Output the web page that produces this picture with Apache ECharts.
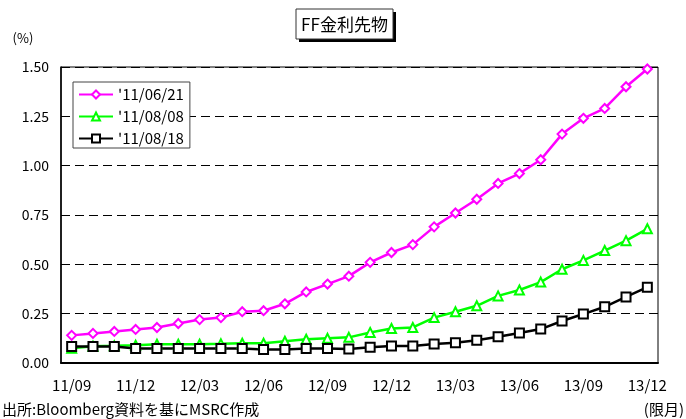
<!DOCTYPE html>
<html>
<head>
<meta charset="utf-8">
<script src="https://cdn.jsdelivr.net/npm/echarts@6/dist/echarts.min.js"></script>
<style>
  html, body { margin: 0; padding: 0; background: #fff; }
  #chart { width: 686px; height: 419px; }
</style>
</head>
<body>
<div id="chart"></div>
<script>
// Contract months (YY/MM)
const months = [
  '11/09','11/10','11/11','11/12','12/01','12/02','12/03','12/04','12/05','12/06',
  '12/07','12/08','12/09','12/10','12/11','12/12','13/01','13/02','13/03','13/04',
  '13/05','13/06','13/07','13/08','13/09','13/10','13/11','13/12'
];

// Implied FF rate (%) by observation date
const curve110621 = [0.14, 0.15, 0.16, 0.17, 0.18, 0.20, 0.22, 0.23, 0.26, 0.265,
  0.30, 0.36, 0.40, 0.44, 0.51, 0.56, 0.60, 0.69, 0.76, 0.83,
  0.91, 0.96, 1.03, 1.16, 1.24, 1.29, 1.40, 1.49];
const curve110808 = [0.075, 0.085, 0.087, 0.09, 0.095, 0.095, 0.095, 0.097, 0.10, 0.10,
  0.11, 0.12, 0.125, 0.13, 0.155, 0.175, 0.18, 0.23, 0.26, 0.29,
  0.34, 0.37, 0.41, 0.475, 0.52, 0.57, 0.62, 0.68];
const curve110818 = [0.083, 0.084, 0.084, 0.073, 0.073, 0.073, 0.073, 0.073, 0.073, 0.068,
  0.068, 0.073, 0.073, 0.071, 0.08, 0.086, 0.086, 0.096, 0.103, 0.115,
  0.133, 0.152, 0.172, 0.213, 0.248, 0.285, 0.335, 0.384];

const seriesNames = ["'11/06/21", "'11/08/08", "'11/08/18"];
const yTicks = { min: 0, max: 1.5, interval: 0.25 };

const FONT = "'Noto Sans CJK JP', sans-serif";

const chart = echarts.init(document.getElementById('chart'), null, { renderer: 'canvas' });

function lineSeries(name, data, color, symbol, size) {
  return {
    name: name,
    type: 'line',
    data: data,
    symbol: symbol,
    symbolSize: size,
    showAllSymbol: true,
    lineStyle: { color: color, width: 2.5 },
    itemStyle: { color: color, borderWidth: 1.5 },
    emphasis: { disabled: true },
    animation: false
  };
}

chart.setOption({
  backgroundColor: '#fff',
  animation: false,
  textStyle: { fontFamily: FONT },
  grid: {
    left: 61, right: 28, top: 67, bottom: 56,
    show: true, borderColor: '#000', borderWidth: 1, backgroundColor: '#fff'
  },
  legend: {
    orient: 'vertical',
    left: 73, top: 82,
    padding: [5, 6, 2, 5],
    itemWidth: 34, itemHeight: 10, itemGap: 7,
    backgroundColor: '#fff',
    borderColor: '#444', borderWidth: 1,
    textStyle: { fontFamily: FONT, fontSize: 15, color: '#000' },
    data: seriesNames
  },
  xAxis: {
    type: 'category',
    data: months,
    boundaryGap: true,
    axisLine: { lineStyle: { color: '#000', width: 2 } },
    axisTick: { inside: true, length: 4, interval: 2, lineStyle: { color: '#000', width: 1 } },
    axisLabel: { interval: 2, color: '#000', fontSize: 15, fontFamily: FONT, margin: 15 },
    splitLine: { show: false }
  },
  yAxis: {
    type: 'value',
    min: yTicks.min, max: yTicks.max, interval: yTicks.interval,
    axisLine: { show: true, lineStyle: { color: '#000', width: 1.5 } },
    axisTick: { show: false },
    axisLabel: {
      color: '#000', fontSize: 14, fontFamily: FONT, margin: 12,
      formatter: v => v.toFixed(2)
    },
    splitLine: { show: true, lineStyle: { color: '#000', type: [9, 5], width: 1 } }
  },
  series: [
    lineSeries(seriesNames[0], curve110621, '#ff00ff', 'emptyDiamond', 9),
    lineSeries(seriesNames[1], curve110808, '#00ff00', 'emptyTriangle', 9),
    lineSeries(seriesNames[2], curve110818, '#000000', 'emptyRect', 9)
  ],
  graphic: [
    // Title box with drop shadow
    { type: 'rect', shape: { x: 299, y: 12, width: 97, height: 30 }, style: { fill: '#000' }, silent: true },
    { type: 'rect', shape: { x: 296, y: 9, width: 97, height: 30 }, style: { fill: '#fff', stroke: '#333', lineWidth: 1 }, silent: true },
    { type: 'text', x: 344.5, y: 24.5, style: { text: 'FF金利先物', fontSize: 17, fontFamily: FONT, fill: '#000', align: 'center', verticalAlign: 'middle' }, silent: true },
    // Unit label
    { type: 'text', x: 23, y: 38, style: { text: '(%)', fontSize: 13, fontFamily: FONT, fill: '#000', align: 'center', verticalAlign: 'middle' }, silent: true },
    // Source and axis unit
    { type: 'text', x: 2, y: 409, style: { text: '出所:Bloomberg資料を基にMSRC作成', fontSize: 15, fontFamily: FONT, fill: '#000', align: 'left', verticalAlign: 'middle' }, silent: true },
    { type: 'text', x: 684, y: 409, style: { text: '(限月)', fontSize: 15, fontFamily: FONT, fill: '#000', align: 'right', verticalAlign: 'middle' }, silent: true }
  ]
});
</script>
</body>
</html>
